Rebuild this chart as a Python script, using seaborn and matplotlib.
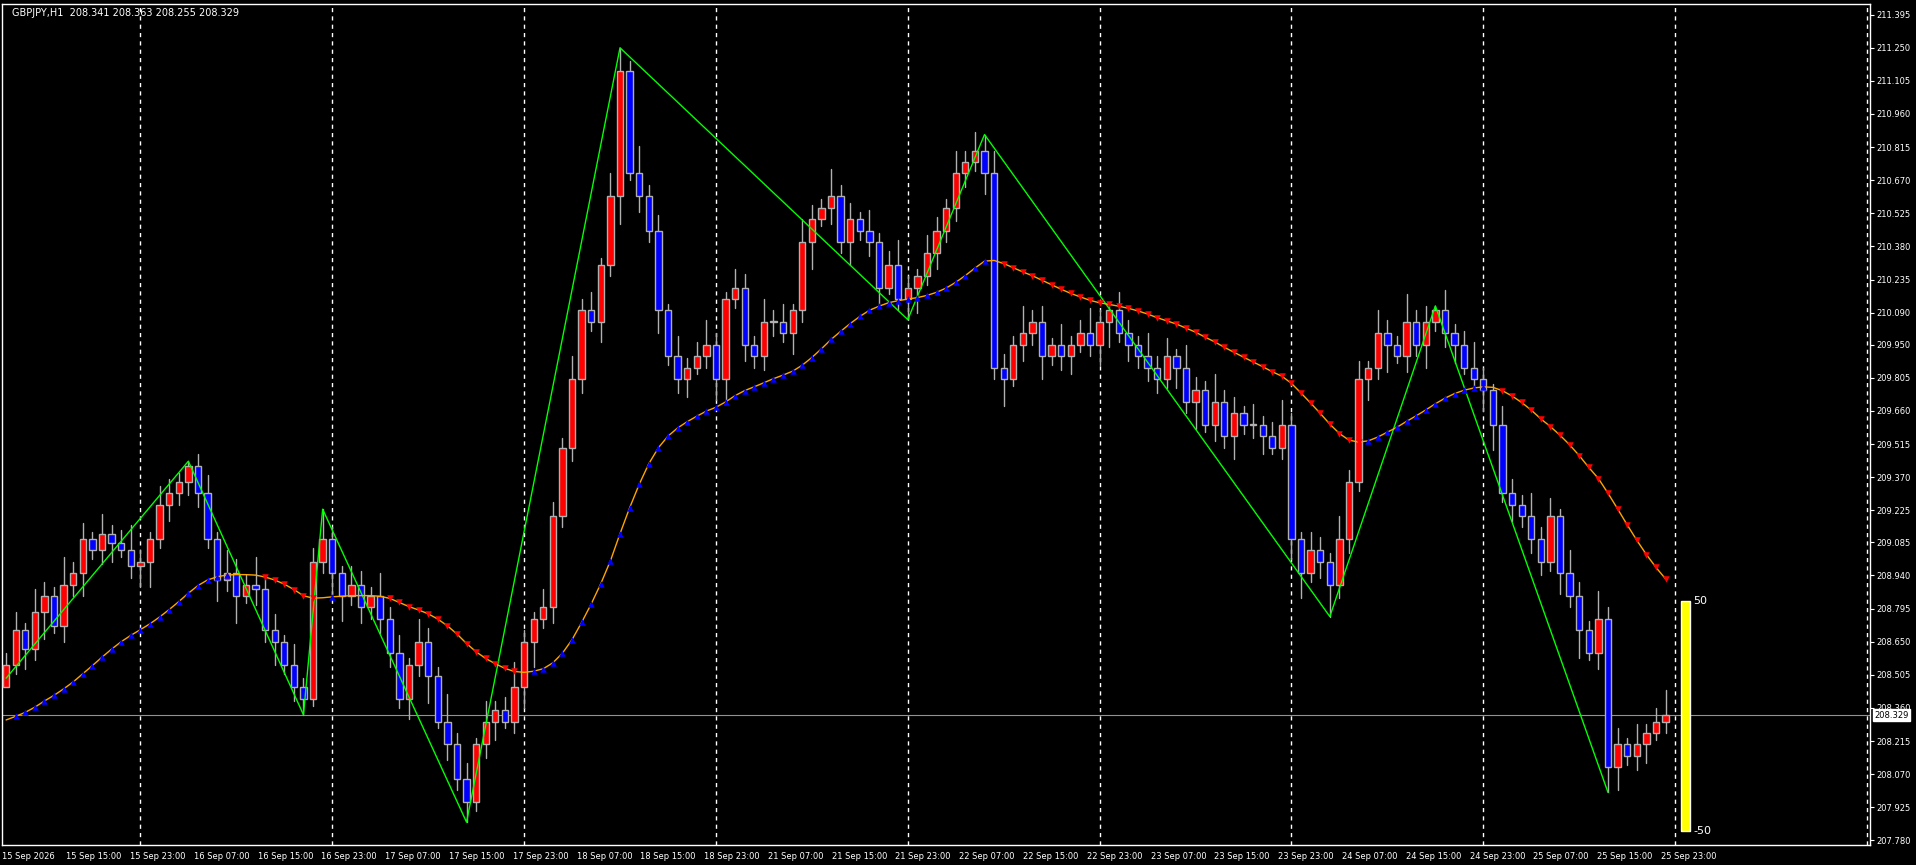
import numpy as np
import pandas as pd
import matplotlib
matplotlib.use("Agg")
import matplotlib.pyplot as plt
from matplotlib.patches import Rectangle
import seaborn as sns

sns.set_style("dark")
plt.rcParams['font.family'] = ['DejaVu Sans']

# ===== data =====
closes = [
    208.55, 208.70, 208.62, 208.78, 208.85, 208.72, 208.90, 208.95, 209.10, 209.05,
    209.12, 209.08, 209.05, 208.98, 209.00, 209.10, 209.25, 209.30, 209.35, 209.42,
    209.30, 209.10, 208.92, 208.95, 208.85, 208.90, 208.88, 208.70, 208.65, 208.55, 208.45, 208.40,
    209.00, 209.10,
    208.95, 208.85, 208.90, 208.80, 208.85, 208.75, 208.60, 208.40, 208.55, 208.65,
    208.50, 208.30, 208.20, 208.05, 207.95,
    208.20, 208.30, 208.35, 208.30, 208.45, 208.65, 208.75, 208.80, 209.20, 209.50,
    209.80, 210.10, 210.05, 210.30, 210.60, 211.15,
    210.70, 210.60, 210.45, 210.10, 209.90, 209.80, 209.85, 209.90, 209.95, 209.80,
    210.15, 210.20, 209.95, 209.90, 210.05, 210.05, 210.00, 210.10, 210.40, 210.50,
    210.55, 210.60, 210.40, 210.50, 210.45, 210.40, 210.20, 210.30, 210.15, 210.20,
    210.25, 210.35, 210.45, 210.55, 210.70, 210.75, 210.80, 210.70,
    209.85, 209.80, 209.95, 210.00, 210.05, 209.90, 209.95, 209.90, 209.95, 210.00,
    209.95, 210.05, 210.10, 210.00, 209.95, 209.90, 209.85, 209.80, 209.90, 209.85,
    209.70, 209.75, 209.60, 209.70, 209.55, 209.65, 209.60, 209.60, 209.55, 209.50,
    209.60, 209.10, 208.95, 209.05, 209.00, 208.90,
    209.10, 209.35, 209.80, 209.85, 210.00, 209.95, 209.90, 210.05, 209.95, 210.05, 210.10,
    210.00, 209.95, 209.85, 209.80, 209.75, 209.60, 209.30, 209.25, 209.20, 209.10,
    209.00, 209.20, 208.95, 208.85, 208.70, 208.60, 208.75, 208.10,
    208.20, 208.15, 208.20, 208.25, 208.30, 208.33,
]
first_open = 208.45
ma_seed = 208.30
wick_up = [0.05, 0.08, 0.03, 0.10, 0.06, 0.04, 0.12, 0.05, 0.07, 0.03,
           0.09, 0.04, 0.06, 0.11, 0.05, 0.03, 0.08, 0.06, 0.04, 0.10]
wick_dn = [0.06, 0.04, 0.09, 0.05, 0.12, 0.03, 0.07, 0.05, 0.10, 0.04,
           0.06, 0.08, 0.03, 0.05, 0.09, 0.11, 0.04, 0.07, 0.05, 0.06]

zz_idx = [0, 19, 31, 33, 48, 64, 94, 102, 138, 149, 167]
zz_price = [208.49, 209.44, 208.33, 209.23, 207.86, 211.25, 210.06, 210.87, 208.76, 210.12, 207.99]

yticks = [211.395, 211.250, 211.105, 210.960, 210.815, 210.670, 210.525, 210.380, 210.235,
          210.090, 209.950, 209.805, 209.660, 209.515, 209.370, 209.225, 209.085, 208.940,
          208.795, 208.650, 208.505, 208.360, 208.215, 208.070, 207.925, 207.780]
time_labels = ["15 Sep 2026", "15 Sep 15:00", "15 Sep 23:00", "16 Sep 07:00", "16 Sep 15:00",
               "16 Sep 23:00", "17 Sep 07:00", "17 Sep 15:00", "17 Sep 23:00", "18 Sep 07:00",
               "18 Sep 15:00", "18 Sep 23:00", "21 Sep 07:00", "21 Sep 15:00", "21 Sep 23:00",
               "22 Sep 07:00", "22 Sep 15:00", "22 Sep 23:00", "23 Sep 07:00", "23 Sep 15:00",
               "23 Sep 23:00", "24 Sep 07:00", "24 Sep 15:00", "24 Sep 23:00", "25 Sep 07:00",
               "25 Sep 15:00", "25 Sep 23:00"]
last_price = 208.329

# ===== build OHLC =====
n = len(closes)
df = pd.DataFrame({"i": np.arange(n), "close": closes})
df["open"] = df["close"].shift(1).fillna(first_open)
df["high"] = df[["open", "close"]].max(axis=1) + [wick_up[k % 20] for k in range(n)]
df["low"] = df[["open", "close"]].min(axis=1) - [wick_dn[k % 20] for k in range(n)]
for k, p in zip(zz_idx, zz_price):
    if p > df.loc[k, "close"]:
        df.loc[k, "high"] = p
    else:
        df.loc[k, "low"] = p

ma = pd.Series([ma_seed] * 12 + closes).ewm(span=26, adjust=False).mean()
ma = ma.ewm(span=4, adjust=False).mean()
df["ma"] = ma.iloc[12:].values
df["slope"] = df["ma"].diff().fillna(0)

# ===== figure (layout measured on a 1568x708 view) =====
W, H = 1568, 708
fig = plt.figure(figsize=(19.16, 8.65), dpi=100, facecolor="black")
ax = fig.add_axes([2 / W, (H - 692) / H, 1528 / W, 689 / H], facecolor="black")
x0, xp = 5, 7.85
ax.set_xlim((2 - x0) / xp, (1530 - x0) / xp)
ax.set_ylim(207.758, 211.443)

for k in range(14, 200, 20):
    ax.axvline(k, color="white", lw=1, ls=(0, (3, 3)))

for _, r in df.iterrows():
    up = r["close"] >= r["open"]
    ax.plot([r["i"], r["i"]], [r["low"], r["high"]], color="#b0b0b0", lw=1, zorder=2)
    body = max(abs(r["close"] - r["open"]), 0.004)
    ax.add_patch(Rectangle((r["i"] - 0.33, min(r["open"], r["close"])), 0.66, body,
                           facecolor="#ff0000" if up else "#0000ff",
                           edgecolor="#b0b0b0", lw=1, zorder=3))

sns.lineplot(x=zz_idx, y=zz_price, color="#00ff00", lw=1, ax=ax, zorder=4)
sns.lineplot(data=df, x="i", y="ma", color="#ffa500", lw=1, ax=ax, zorder=5)
rise = df[df["slope"] > 0.004]
fall = df[df["slope"] < -0.004]
ax.scatter(rise["i"], rise["ma"], marker="^", s=22, color="#0000ff", zorder=6, lw=0)
ax.scatter(fall["i"], fall["ma"], marker="v", s=22, color="#ff0000", zorder=6, lw=0)

ax.axhline(last_price, color="#9090a0", lw=0.8, zorder=1)
ax.add_patch(Rectangle((174.6, 207.82), 0.9, 208.83 - 207.82, facecolor="yellow", zorder=7))
ax.text(175.9, 208.83, "50", color="white", fontsize=8, va="center")
ax.text(175.9, 207.82, "-50", color="white", fontsize=8, va="center")

ax.text(0.6, 211.40, "GBPJPY,H1  208.341 208.363 208.255 208.329", color="white",
        fontsize=7, va="center")

ax.yaxis.tick_right()
ax.set_yticks(yticks)
ax.set_yticklabels([f"{t:.3f}" for t in yticks], color="white", fontsize=6)
ax.tick_params(axis="y", colors="white", length=3, pad=2, labelcolor="white")
lab_pos = [(2 - x0) / xp + k * 52.2 / xp for k in range(len(time_labels))]
ax.set_xticks(lab_pos)
ax.set_xticklabels(time_labels, color="white", fontsize=6, ha="left")
ax.tick_params(axis="x", colors="white", length=3, pad=2, labelcolor="white")
ax.set_xlabel("")
ax.set_ylabel("")
ax.grid(False)
ax.text(1.0025, (last_price - 207.758) / (211.443 - 207.758), f"{last_price:.3f}",
        transform=ax.transAxes, color="black", fontsize=6, va="center",
        bbox=dict(facecolor="white", edgecolor="white", pad=0.8))
for s in ax.spines.values():
    s.set_color("white")
    s.set_linewidth(1)

fig.savefig("out.png", dpi=100, facecolor="black")
